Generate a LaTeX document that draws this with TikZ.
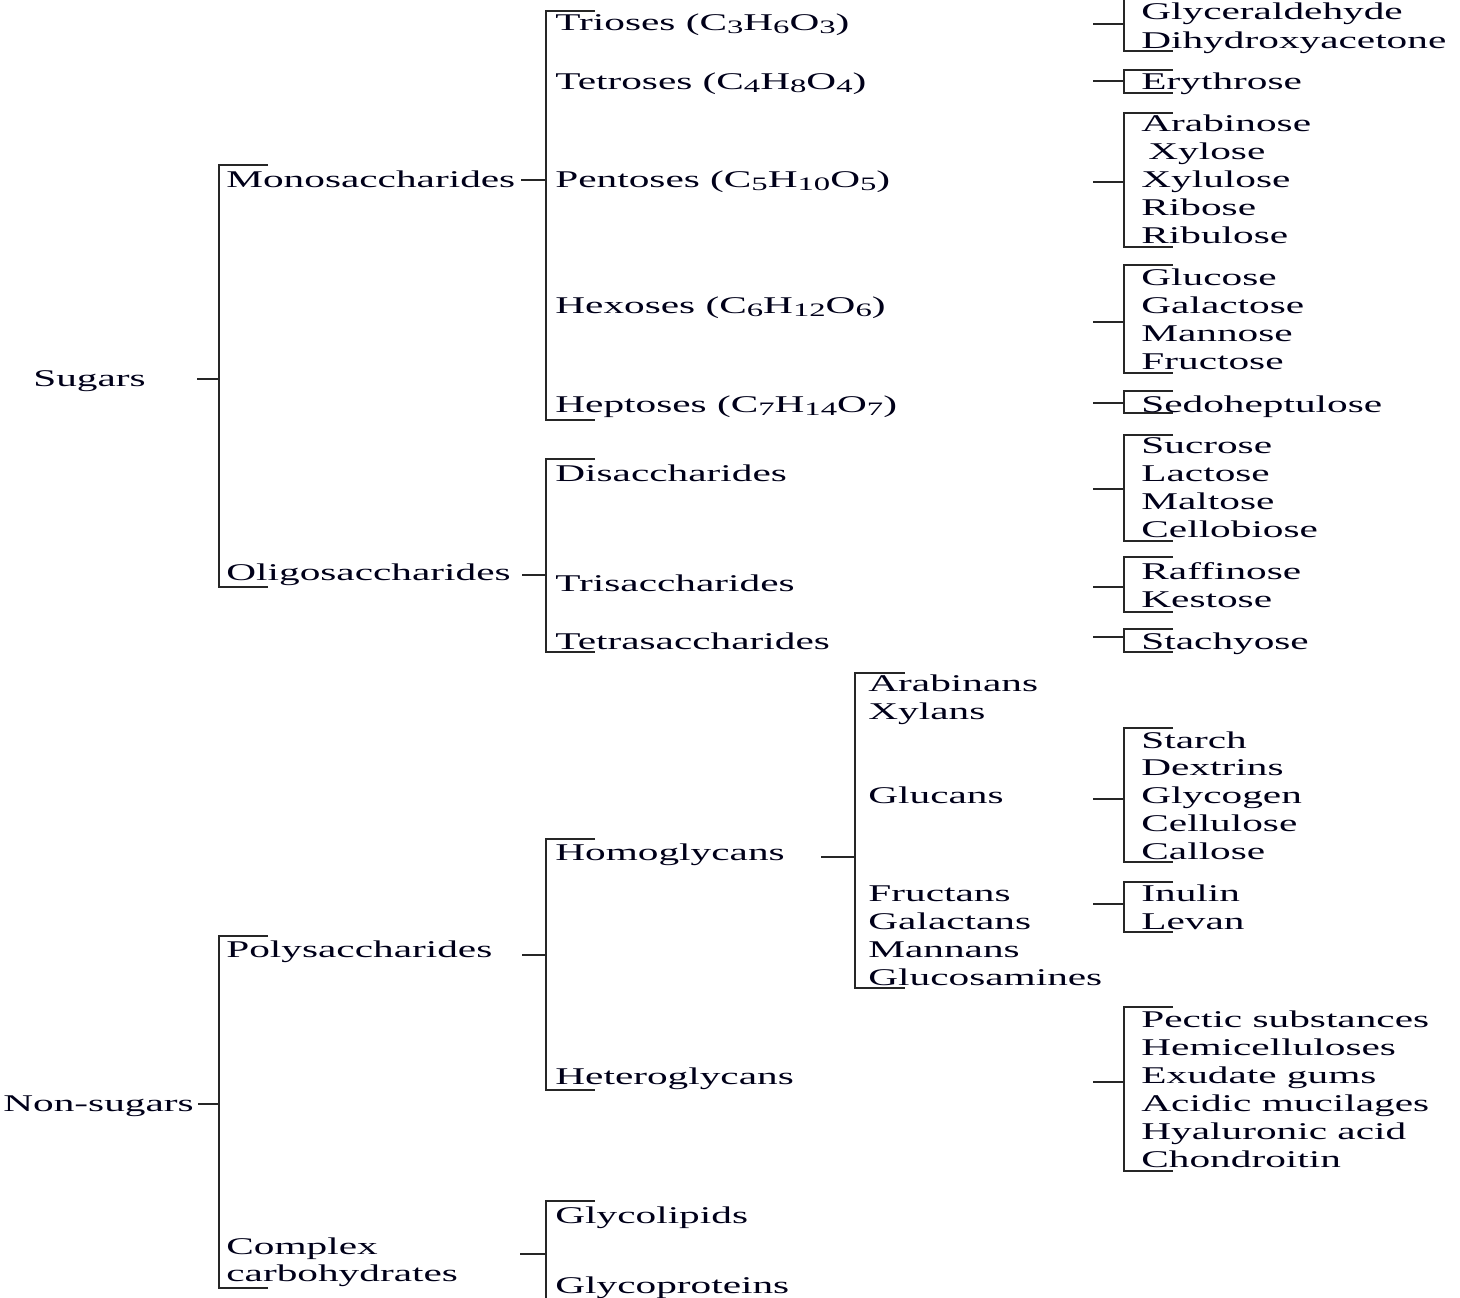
\documentclass[tikz,border=0pt]{standalone}
\usepackage{fontspec}
\setmainfont[FakeStretch=1.72]{Liberation Serif}
\usepackage{tikz}
\usepackage{xcolor}
\newcommand{\subnum}[1]{\raisebox{-0.35ex}{\fontsize{9.5}{10}\selectfont #1}}

\begin{document}
\begin{tikzpicture}[x=0.5pt,y=-0.5pt,
    lbl/.style={anchor=base west, inner sep=0pt, font=\fontsize{12}{13.5}\selectfont, text=black!90!blue},
    brk/.style={line width=1pt, black!85}]
		\useasboundingbox (0,0) rectangle (1460,1297);

		% root level
		\node[lbl] (sugars) at (33,386) {Sugars};
		\node[lbl] (nonsugars) at (3,1111) {Non-sugars};
		\draw[brk](197,379)--(219,379) ;
		\draw[brk](268,165)--(219,165)--(219,587)--(268,587) ;
		\draw[brk](198,1104)--(219,1104) ;
		\draw[brk](268,936)--(219,936)--(219,1288)--(268,1288) ;

		% second level
		\node[lbl] (mono) at (226,187) {Monosaccharides};
		\node[lbl] (oligo) at (226,580) {Oligosaccharides};
		\node[lbl] (poly) at (226,957) {Polysaccharides};
		\node[lbl, align=left] (complex) at (226,1281) {Complex\\carbohydrates};
		\draw[brk](521,180)--(546,180) ;
		\draw[brk](595,11)--(546,11)--(546,420)--(595,420) ;
		\draw[brk](522,575)--(546,575) ;
		\draw[brk](595,459)--(546,459)--(546,652)--(595,652) ;
		\draw[brk](522,955)--(546,955) ;
		\draw[brk](595,839)--(546,839)--(546,1090)--(595,1090) ;
		\draw[brk](520,1254)--(546,1254) ;
		\draw[brk](595,1201)--(546,1201)--(546,1310)--(595,1310) ;

		% third level
		\node[lbl] (trioses) at (555,30) {Trioses (C\subnum{3}H\subnum{6}O\subnum{3})};
		\node[lbl] (tetroses) at (555,89) {Tetroses (C\subnum{4}H\subnum{8}O\subnum{4})};
		\node[lbl] (pentoses) at (555,187) {Pentoses (C\subnum{5}H\subnum{10}O\subnum{5})};
		\node[lbl] (hexoses) at (555,313) {Hexoses (C\subnum{6}H\subnum{12}O\subnum{6})};
		\node[lbl] (heptoses) at (555,412) {Heptoses (C\subnum{7}H\subnum{14}O\subnum{7})};
		\node[lbl] (disac) at (555,481) {Disaccharides};
		\node[lbl] (trisac) at (555,591) {Trisaccharides};
		\node[lbl] (tetrasac) at (555,649) {Tetrasaccharides};
		\node[lbl] (homo) at (555,860) {Homoglycans};
		\node[lbl] (hetero) at (555,1084) {Heteroglycans};
		\node[lbl] (glycolip) at (555,1223) {Glycolipids};
		\node[lbl] (glycoprot) at (555,1293) {Glycoproteins};

		% homoglycans
		\draw[brk](821,857)--(855,857) ;
		\draw[brk](905,673)--(855,673)--(855,988)--(905,988) ;
		\node[lbl] (arabinans) at (868,691) {Arabinans};
		\node[lbl] (xylans) at (868,719) {Xylans};
		\node[lbl] (glucans) at (868,803) {Glucans};
		\node[lbl] (fructans) at (868,901) {Fructans};
		\node[lbl] (galactans) at (868,929) {Galactans};
		\node[lbl] (mannans) at (868,957) {Mannans};
		\node[lbl] (glucosam) at (868,985) {Glucosamines};

		% leaf brackets
		\draw[brk](1093,24)--(1124,24) ;
		\draw[brk](1173,-3)--(1124,-3)--(1124,51)--(1173,51) ;
		\draw[brk](1093,81)--(1124,81) ;
		\draw[brk](1173,70)--(1124,70)--(1124,93)--(1173,93) ;
		\draw[brk](1093,182)--(1124,182) ;
		\draw[brk](1173,113)--(1124,113)--(1124,247)--(1173,247) ;
		\draw[brk](1093,322)--(1124,322) ;
		\draw[brk](1173,265)--(1124,265)--(1124,373)--(1173,373) ;
		\draw[brk](1093,403)--(1124,403) ;
		\draw[brk](1173,391)--(1124,391)--(1124,413)--(1173,413) ;
		\draw[brk](1093,489)--(1124,489) ;
		\draw[brk](1173,435)--(1124,435)--(1124,541)--(1173,541) ;
		\draw[brk](1093,587)--(1124,587) ;
		\draw[brk](1173,557)--(1124,557)--(1124,612)--(1173,612) ;
		\draw[brk](1093,637)--(1124,637) ;
		\draw[brk](1173,629)--(1124,629)--(1124,652)--(1173,652) ;
		\draw[brk](1093,799)--(1124,799) ;
		\draw[brk](1173,728)--(1124,728)--(1124,862)--(1173,862) ;
		\draw[brk](1093,904)--(1124,904) ;
		\draw[brk](1173,882)--(1124,882)--(1124,932)--(1173,932) ;
		\draw[brk](1093,1082)--(1124,1082) ;
		\draw[brk](1173,1007)--(1124,1007)--(1124,1171)--(1173,1171) ;

		% leaves
		\node[lbl] (glyald) at (1141,19) {Glyceraldehyde};
		\node[lbl] (dihyd) at (1141,48) {Dihydroxyacetone};
		\node[lbl] (erythrose) at (1141,89) {Erythrose};
		\node[lbl] (arabinose) at (1141,131) {Arabinose};
		\node[lbl] (xylose) at (1148,159) {Xylose};
		\node[lbl] (xylulose) at (1141,187) {Xylulose};
		\node[lbl] (ribose) at (1141,215) {Ribose};
		\node[lbl] (ribulose) at (1141,243) {Ribulose};
		\node[lbl] (glucose) at (1141,285) {Glucose};
		\node[lbl] (galactose) at (1141,313) {Galactose};
		\node[lbl] (mannose) at (1141,341) {Mannose};
		\node[lbl] (fructose) at (1141,369) {Fructose};
		\node[lbl] (sedo) at (1141,412) {Sedoheptulose};
		\node[lbl] (sucrose) at (1141,453) {Sucrose};
		\node[lbl] (lactose) at (1141,481) {Lactose};
		\node[lbl] (maltose) at (1141,509) {Maltose};
		\node[lbl] (cellobiose) at (1141,537) {Cellobiose};
		\node[lbl] (raffinose) at (1141,579) {Raffinose};
		\node[lbl] (kestose) at (1141,607) {Kestose};
		\node[lbl] (stachyose) at (1141,649) {Stachyose};
		\node[lbl] (starch) at (1141,748) {Starch};
		\node[lbl] (dextrins) at (1141,775) {Dextrins};
		\node[lbl] (glycogen) at (1141,803) {Glycogen};
		\node[lbl] (cellulose) at (1141,831) {Cellulose};
		\node[lbl] (callose) at (1141,859) {Callose};
		\node[lbl] (inulin) at (1141,901) {Inulin};
		\node[lbl] (levan) at (1141,929) {Levan};
		\node[lbl] (pectic) at (1141,1027) {Pectic substances};
		\node[lbl] (hemicell) at (1141,1055) {Hemicelluloses};
		\node[lbl] (exudate) at (1141,1083) {Exudate gums};
		\node[lbl] (acidic) at (1141,1111) {Acidic mucilages};
		\node[lbl] (hyal) at (1141,1139) {Hyaluronic acid};
		\node[lbl] (chond) at (1141,1167) {Chondroitin};

	\end{tikzpicture}
\end{document}
